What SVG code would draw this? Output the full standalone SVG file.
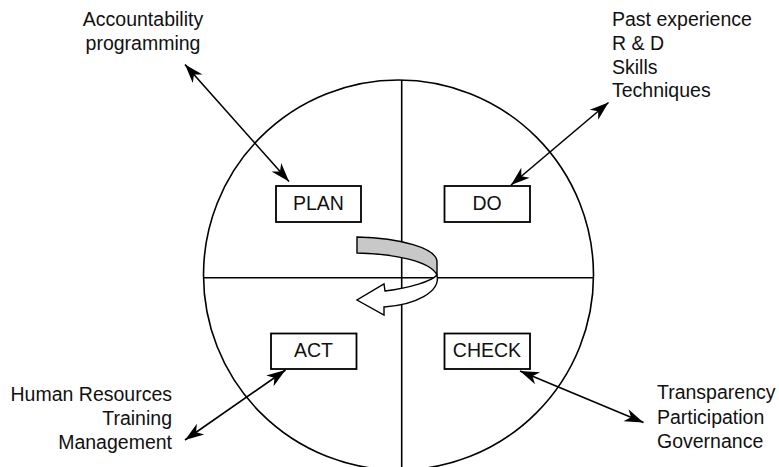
<svg xmlns="http://www.w3.org/2000/svg" width="779" height="467" viewBox="0 0 779 467">
<defs>
<marker id="ah" viewBox="-21 -8 22 16" refX="0" refY="0" markerWidth="22" markerHeight="16" markerUnits="userSpaceOnUse" orient="auto-start-reverse">
<path d="M0,0 L-19,-6.5 L-13.5,0 L-19,6.5 Z" fill="#000"/>
</marker>
</defs>
<style>
.ln{fill:none;stroke:#000;stroke-width:1.6}
.box{fill:#fff;stroke:#000;stroke-width:1.8}
.t{font-family:"Liberation Sans",Arial,sans-serif;font-size:19.5px;fill:#111}
.c{text-anchor:middle}
.r{text-anchor:end}
.conn{fill:none;stroke:#000;stroke-width:1.6;marker-start:url(#ah);marker-end:url(#ah)}
</style>
<rect width="779" height="467" fill="#fff"/>
<g id="cycle">
<circle cx="398.5" cy="275" r="195" class="ln"/>
<line x1="401.7" y1="80" x2="401.7" y2="467" class="ln"/>
<line x1="203" y1="277.7" x2="593.5" y2="277.7" class="ln"/>
<path d="M357,237 C400,238 437,248 437,262 L437,275 C430,261 395,254 357,253 Z" fill="#c8c8c8" stroke="#000" stroke-width="1.4"/>
<path d="M437,275 C441,292 415,305 384,307 L384,315 L357,300 L384,284 L385,291 C410,288 432,281 437,275 Z" fill="#fff" stroke="#000" stroke-width="1.4"/>
</g>
<g id="plan">
<rect x="276" y="186" width="85" height="36" class="box"/>
<text x="318.5" y="209.5" class="t c">PLAN</text>
</g>
<g id="do">
<rect x="444.5" y="186" width="85.5" height="36" class="box"/>
<text x="487" y="209.5" class="t c">DO</text>
</g>
<g id="act">
<rect x="271" y="333.5" width="85.5" height="35.5" class="box"/>
<text x="313.5" y="357" class="t c">ACT</text>
</g>
<g id="check">
<rect x="444.5" y="333.5" width="85.5" height="35.5" class="box"/>
<text x="487" y="357" class="t c">CHECK</text>
</g>
<g id="label-plan">
<text x="143" y="26" class="t c">Accountability</text>
<text x="143" y="50" class="t c">programming</text>
</g>
<g id="label-do">
<text x="612" y="26" class="t">Past experience</text>
<text x="612" y="50" class="t">R &amp; D</text>
<text x="612" y="73.5" class="t">Skills</text>
<text x="612" y="97" class="t">Techniques</text>
</g>
<g id="label-act">
<text x="172" y="401" class="t r">Human Resources</text>
<text x="172" y="425" class="t r">Training</text>
<text x="172" y="449" class="t r">Management</text>
</g>
<g id="label-check">
<text x="657" y="399" class="t">Transparency</text>
<text x="657" y="424" class="t">Participation</text>
<text x="657" y="448" class="t">Governance</text>
</g>
<g id="connectors">
<line x1="185" y1="64.5" x2="289" y2="181.5" class="conn"/>
<line x1="608.5" y1="102.5" x2="511" y2="185" class="conn"/>
<line x1="185" y1="440" x2="285.5" y2="370" class="conn"/>
<line x1="643.5" y1="422.5" x2="520" y2="371" class="conn"/>
</g>
</svg>
